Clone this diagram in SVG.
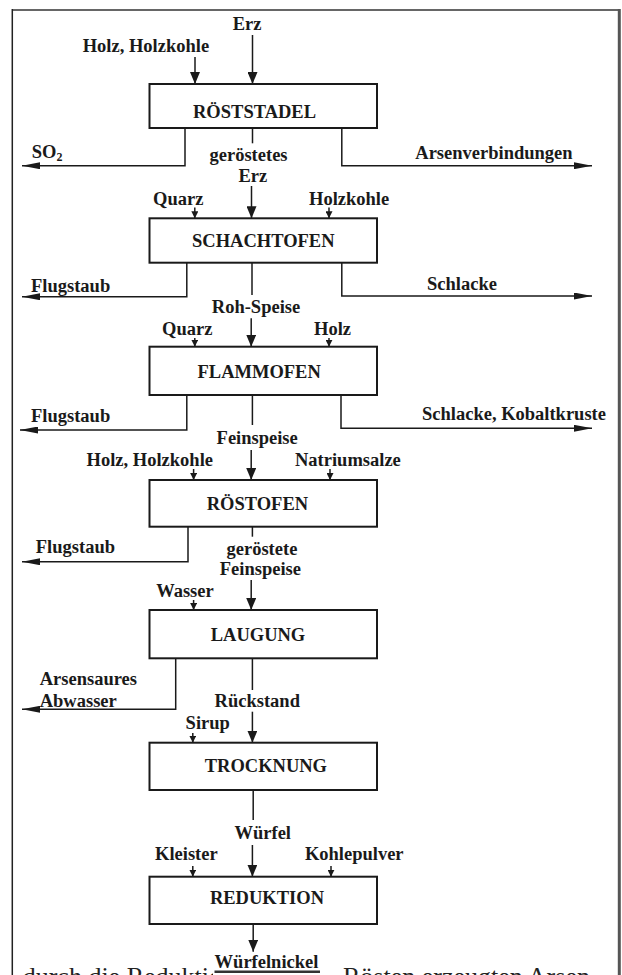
<svg xmlns="http://www.w3.org/2000/svg" width="622" height="975" viewBox="0 0 622 975">
<style>
.t{font-family:"Liberation Serif","Times New Roman",serif;font-weight:bold;font-size:18.5px;fill:#1a1a1a}
.body{font-family:"Liberation Serif","Times New Roman",serif;font-size:26px;fill:#222}
.box{fill:#fff;stroke:#1a1a1a;stroke-width:2}
.ln{fill:none;stroke:#1a1a1a;stroke-width:1.5}
</style>
<defs>
<marker id="big" markerUnits="userSpaceOnUse" viewBox="0 0 12 10" markerWidth="12" markerHeight="10" refX="12" refY="5" orient="auto"><path d="M0,0 L12,5 L0,10 z" fill="#1a1a1a"/></marker>
<marker id="sm" markerUnits="userSpaceOnUse" viewBox="0 0 7 7" markerWidth="7" markerHeight="7" refX="7" refY="3.5" orient="auto"><path d="M0,0 L7,3.5 L0,7 z" fill="#1a1a1a"/></marker>
<marker id="out" markerUnits="userSpaceOnUse" viewBox="0 0 18 7" markerWidth="18" markerHeight="7" refX="18" refY="3.5" orient="auto"><path d="M0,0 L18,3.5 L0,7 z" fill="#1a1a1a"/></marker>
</defs>
<rect width="622" height="975" fill="#fff"/>
<g id="frame">
<line x1="12" y1="10" x2="620" y2="10" stroke="#666" stroke-width="2"/>
<line x1="12.3" y1="9" x2="12.3" y2="975" stroke="#222" stroke-width="1.5"/>
<line x1="619.3" y1="9" x2="619.3" y2="975" stroke="#555" stroke-width="3"/>
</g>
<g id="connectors">
<line class="ln" x1="252.5" y1="35" x2="252.5" y2="84" marker-end="url(#big)"/>
<line class="ln" x1="195" y1="57" x2="195" y2="84" marker-end="url(#big)"/>
<path class="ln" d="M185,128 V165.7 H22" marker-end="url(#out)"/>
<path class="ln" d="M252.5,128 V143.3"/>
<path class="ln" d="M341.8,128 V165.7 H592" marker-end="url(#out)"/>

<line class="ln" x1="251.5" y1="186" x2="251.5" y2="218.3" marker-end="url(#big)"/>
<line class="ln" x1="194.8" y1="207.5" x2="194.8" y2="218.3" marker-end="url(#sm)"/>
<line class="ln" x1="329" y1="207.5" x2="329" y2="218.3" marker-end="url(#sm)"/>
<path class="ln" d="M186.8,262.7 V296.7 H22" marker-end="url(#out)"/>
<path class="ln" d="M252,262.7 V295"/>
<path class="ln" d="M341.8,262.7 V296 H592" marker-end="url(#out)"/>

<line class="ln" x1="251.2" y1="318.3" x2="251.2" y2="346.7" marker-end="url(#big)"/>
<line class="ln" x1="194.8" y1="338" x2="194.8" y2="346.7" marker-end="url(#sm)"/>
<line class="ln" x1="329" y1="338" x2="329" y2="346.7" marker-end="url(#sm)"/>
<path class="ln" d="M186.8,395 V430 H20" marker-end="url(#out)"/>
<path class="ln" d="M252.4,395 V425"/>
<path class="ln" d="M341,395 V428.3 H592" marker-end="url(#out)"/>

<line class="ln" x1="251.2" y1="450" x2="251.2" y2="480" marker-end="url(#big)"/>
<line class="ln" x1="193.6" y1="469" x2="193.6" y2="480" marker-end="url(#sm)"/>
<line class="ln" x1="330" y1="469" x2="330" y2="480" marker-end="url(#sm)"/>
<path class="ln" d="M188,526.7 V561.7 H22" marker-end="url(#out)"/>
<path class="ln" d="M252.4,526.7 V536.7"/>

<line class="ln" x1="251.2" y1="580" x2="251.2" y2="610" marker-end="url(#big)"/>
<line class="ln" x1="193.6" y1="600" x2="193.6" y2="610" marker-end="url(#sm)"/>
<path class="ln" d="M175.7,658.3 V709.3 H22" marker-end="url(#out)"/>
<path class="ln" d="M252.4,658.3 V690"/>

<line class="ln" x1="252.4" y1="711.7" x2="252.4" y2="742.7" marker-end="url(#big)"/>
<line class="ln" x1="192.8" y1="733" x2="192.8" y2="742.7" marker-end="url(#sm)"/>
<path class="ln" d="M253.2,790 V820"/>

<line class="ln" x1="252.4" y1="845" x2="252.4" y2="876.7" marker-end="url(#big)"/>
<line class="ln" x1="192.8" y1="866" x2="192.8" y2="876.7" marker-end="url(#sm)"/>
<line class="ln" x1="331" y1="866" x2="331" y2="876.7" marker-end="url(#sm)"/>
<line class="ln" x1="253.2" y1="924" x2="253.2" y2="951.7" marker-end="url(#big)"/>
</g>
<g id="n1"><rect class="box" x="149.5" y="84" width="227.5" height="44"/><text class="t" x="193" y="118">RÖSTSTADEL</text></g>
<g id="n2"><rect class="box" x="149.5" y="218.3" width="227.5" height="44.4"/><text class="t" x="192" y="247.3">SCHACHTOFEN</text></g>
<g id="n3"><rect class="box" x="149.5" y="346.7" width="227.5" height="48.3"/><text class="t" x="197.5" y="378.3">FLAMMOFEN</text></g>
<g id="n4"><rect class="box" x="149.5" y="480" width="227.5" height="46.7"/><text class="t" x="206.7" y="510">RÖSTOFEN</text></g>
<g id="n5"><rect class="box" x="149.5" y="610" width="227.5" height="48.3"/><text class="t" x="210.7" y="641">LAUGUNG</text></g>
<g id="n6"><rect class="box" x="149.5" y="742.7" width="227.5" height="47.3"/><text class="t" x="204.7" y="772.3">TROCKNUNG</text></g>
<g id="n7"><rect class="box" x="149.5" y="876.7" width="227.5" height="47.3"/><text class="t" x="209.9" y="904">REDUKTION</text></g>
<g id="labels">
<text class="t" x="232.7" y="30">Erz</text>
<text class="t" x="82.7" y="52.3">Holz, Holzkohle</text>
<text class="t" x="31.8" y="158.3">SO<tspan font-size="12" dy="3">2</tspan></text>
<text class="t" x="209.5" y="160.7">geröstetes</text>
<text class="t" x="238.5" y="181.7">Erz</text>
<text class="t" x="415.3" y="159.3">Arsenverbindungen</text>
<text class="t" x="153" y="205">Quarz</text>
<text class="t" x="309" y="205">Holzkohle</text>
<text class="t" x="31" y="291.7">Flugstaub</text>
<text class="t" x="427" y="290">Schlacke</text>
<text class="t" x="211.8" y="313.3">Roh-Speise</text>
<text class="t" x="162" y="335">Quarz</text>
<text class="t" x="314" y="335">Holz</text>
<text class="t" x="31" y="421.7">Flugstaub</text>
<text class="t" x="422" y="420">Schlacke, Kobaltkruste</text>
<text class="t" x="216.6" y="444">Feinspeise</text>
<text class="t" x="86.6" y="466">Holz, Holzkohle</text>
<text class="t" x="295" y="466">Natriumsalze</text>
<text class="t" x="35.8" y="553.3">Flugstaub</text>
<text class="t" x="226.5" y="555">geröstete</text>
<text class="t" x="219.8" y="575">Feinspeise</text>
<text class="t" x="156.2" y="596.7">Wasser</text>
<text class="t" x="39.7" y="685">Arsensaures</text>
<text class="t" x="39.7" y="707.3">Abwasser</text>
<text class="t" x="214.6" y="706.7">Rückstand</text>
<text class="t" x="185.6" y="729.3">Sirup</text>
<text class="t" x="234.5" y="839">Würfel</text>
<text class="t" x="155" y="860">Kleister</text>
<text class="t" x="304.9" y="860">Kohlepulver</text>
</g>
<g id="page-text">
<text class="body" x="22.7" y="985">durch die Reduktion</text>
<text class="body" x="343" y="985">Rösten erzeugten Arsen</text>
<rect x="213" y="952" width="128" height="23" fill="#fff"/>
<text class="t" x="214.6" y="968.3">Würfelnickel</text>
<rect x="214.5" y="970.5" width="105.5" height="2.5" fill="#333"/>
</g>
</svg>
